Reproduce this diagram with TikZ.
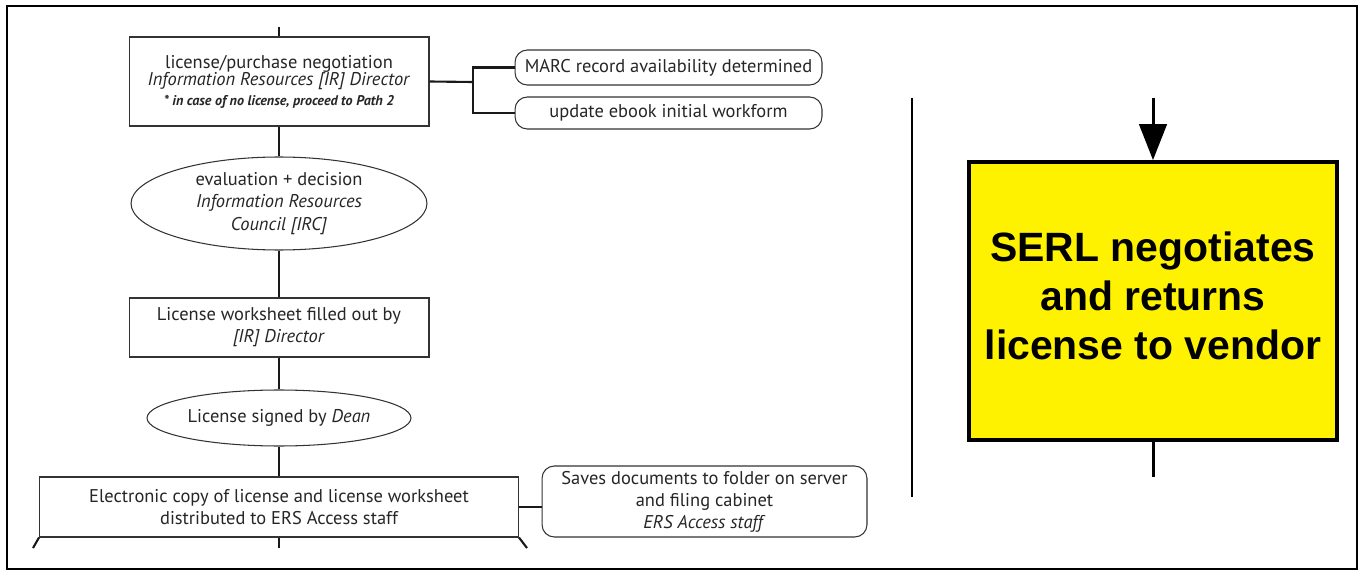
\documentclass[tikz,border=0pt]{standalone}
\usepackage{fontspec}
\setmainfont{PT Sans}
\newfontfamily\serlfont{Liberation Sans}
\usetikzlibrary{arrows.meta,positioning,shapes.geometric}

\tikzset{
  stepbox/.style={draw=black!80, line width=0.6pt, fill=white, align=center,
    inner sep=0pt, text=black!85, font=\fontsize{10.5}{12.5}\selectfont},
  roundbox/.style={stepbox, rounded corners=7pt},
  oval/.style={stepbox, ellipse},
  flow/.style={line width=1.2pt, black!90},
  serlbox/.style={draw=black, line width=2.2pt, fill=yellow},
  serltext/.style={align=center, inner sep=0pt,
    font=\serlfont\bfseries\fontsize{23.3}{28}\selectfont},
}

\begin{document}
\begin{tikzpicture}[x=0.02cm, y=-0.02cm]
    \useasboundingbox (0,0) rectangle (1360,571);
    \draw[line width=0.9pt] (7,6) rectangle (1357,569);

    % main path, left side
    \node[stepbox, minimum width=6cm, minimum height=1.78cm,
          font=\fontsize{10.5}{9.8}\selectfont] (nego) at (279,81.5)
        {license/purchase negotiation\\ \textit{Information Resources [IR] Director}\\[1.5pt]
         {\fontsize{8}{9}\selectfont\bfseries\itshape * in case of no license, proceed to Path 2}};
    \node[roundbox, minimum width=6.14cm, minimum height=0.7cm] (marc) at (668.5,67.5)
        {MARC record availability determined};
    \node[roundbox, minimum width=6.14cm, minimum height=0.64cm] (wform) at (668.5,113)
        {update ebook initial workform};
    \node[oval, minimum width=5.92cm, minimum height=1.86cm,
          font=\fontsize{10.5}{13}\selectfont] (evalu) at (279,203.5)
        {evaluation + decision\\ \textit{Information Resources}\\ \textit{Council [IRC]}};
    \node[stepbox, minimum width=6cm, minimum height=1.18cm] (wsheet) at (279,327.5)
        {License worksheet filled out by\\ \textit{[IR] Director}};
    \node[oval, minimum width=5.28cm, minimum height=1.12cm] (dean) at (279,418)
        {License signed by \textit{Dean}};
    \node[stepbox, minimum width=9.58cm, minimum height=1.2cm] (ecopy) at (279,507)
        {Electronic copy of license and license worksheet\\ distributed to ERS Access staff};
    \node[roundbox, minimum width=6.5cm, minimum height=1.42cm] (saves) at (704.5,501.5)
        {Saves documents to folder on server\\ and filing cabinet\\ \textit{ERS Access staff}};

    \coordinate (topend) at (279,27);
    \coordinate (junc) at (473,82);
    \coordinate (leftfoot) at (33,548);
    \coordinate (midfoot) at (279,548);
    \coordinate (rightfoot) at (527,548);

    \draw[flow] (topend) -- (nego.north);
    \draw[flow] (nego.south) -- (evalu.north);
    \draw[flow] (evalu.south) -- (wsheet.north);
    \draw[flow] (wsheet.south) -- (dean.north);
    \draw[flow] (dean.south) -- (ecopy.north);
    \draw[flow] (ecopy.south) -- (midfoot);
    \draw[flow] (ecopy.south west) -- (leftfoot);
    \draw[flow] (ecopy.south east) -- (rightfoot);
    \draw[flow] (nego.east) -- (junc);
    \draw[flow] (marc.west) -- (marc.west -| junc) -- (wform.west -| junc) -- (wform.west);
    \draw[flow] (ecopy.east) -- (ecopy.east -| saves.west);

    % divider
    \coordinate (divtop) at (912,98);
    \coordinate (divbot) at (912,497);
    \draw[line width=1.2pt] (divtop) -- (divbot);

    % right side
    \node[serlbox, minimum width=7.36cm, minimum height=5.56cm] (serl) at (1153,301) {};
    \node[serltext] (serltxt) at (1153,296)
        {SERL negotiates\\ and returns\\ license to vendor};
    \coordinate (arrtop) at (1153,98);
    \coordinate (serlout) at (1153,477);
    \draw[-{Triangle[length=0.72cm,width=0.55cm]}, line width=1.7pt] (arrtop) -- (serl.north);
    \draw[line width=1.7pt] (serl.south) -- (serlout);
\end{tikzpicture}
\end{document}
